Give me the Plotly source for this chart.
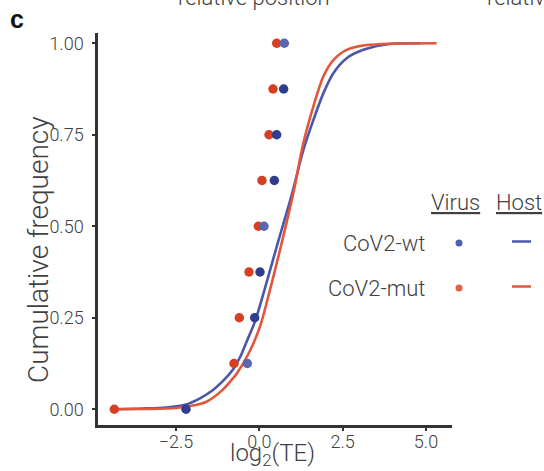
import plotly.graph_objects as go

# ---- data -------------------------------------------------------------
# cumulative frequency levels for the viral genes
virus_cumfreq = [0.0, 0.125, 0.25, 0.375, 0.5, 0.625, 0.75, 0.875, 1.0]
# log2(TE) of viral genes
virus_wt_te = [-2.20, -0.36, -0.14, 0.02, 0.14, 0.45, 0.52, 0.73, 0.75]
virus_mut_te = [-4.35, -0.76, -0.60, -0.31, -0.03, 0.08, 0.29, 0.41, 0.52]

# empirical cumulative distribution of host genes
host_wt_te = [-4.35, -3.5, -2.8, -2.2, -1.78, -1.4, -1.08, -0.78, -0.58, -0.38,
              -0.13, 0.12, 0.52, 0.97, 1.32, 1.62, 1.92, 2.22, 2.62, 3.12, 3.92, 4.82]
host_wt_cdf = [0.0, 0.002, 0.005, 0.013, 0.03, 0.052, 0.078, 0.11, 0.142, 0.185,
               0.24, 0.315, 0.444, 0.585, 0.708, 0.79, 0.863, 0.918, 0.959, 0.982, 0.998, 1.0]
host_mut_te = [-4.35, -3.5, -2.8, -2.37, -2.0, -1.6, -1.38, -1.08, -0.88, -0.68,
               -0.28, 0.02, 0.32, 0.62, 1.02, 1.32, 1.62, 1.92, 2.22, 2.62, 3.22, 4.0, 5.32]
host_mut_cdf = [0.0, 0.001, 0.002, 0.005, 0.01, 0.02, 0.032, 0.055, 0.075, 0.097,
                0.16, 0.226, 0.326, 0.435, 0.59, 0.727, 0.827, 0.909, 0.954, 0.982, 0.995, 0.999, 1.0]

x_ticks = [-2.5, 0.0, 2.5, 5.0]
y_ticks = [0.0, 0.25, 0.5, 0.75, 1.0]

# ---- styling ------------------------------------------------------------
BLUE_LINE = "#4a57aa"
RED_LINE = "#e0573b"
BLUE_DOT_DARK = "#2f3d8f"
BLUE_DOT_LIGHT = "#5867b0"
RED_DOT = "#d63f22"
wt_dot_colors = [BLUE_DOT_DARK, BLUE_DOT_LIGHT, BLUE_DOT_DARK, BLUE_DOT_DARK,
                 BLUE_DOT_LIGHT, BLUE_DOT_DARK, BLUE_DOT_DARK, BLUE_DOT_DARK, BLUE_DOT_LIGHT]
TEXT = "#404040"
AXIS = "#333333"
FONT = "Roboto"

W, H = 544, 471
L, R, T, B = 98, 92, 33, 46
PW, PH = W - L - R, H - T - B


def px(xp):
    return (xp - L) / PW


def py(yp):
    return (H - B - yp) / PH


def label(text, xp, yp, size, xanchor="center", yanchor="middle", **kw):
    return dict(text=text, x=px(xp), y=py(yp), xref="paper", yref="paper",
                xanchor=xanchor, yanchor=yanchor, showarrow=False,
                font=kw.pop("font", dict(family=FONT, size=size, color=TEXT, weight=300)), **kw)


fig = go.Figure()

fig.add_trace(go.Scatter(x=host_wt_te, y=host_wt_cdf, mode="lines",
                         line=dict(color=BLUE_LINE, width=2.6, shape="spline", smoothing=0.8),
                         showlegend=False, hoverinfo="skip"))
fig.add_trace(go.Scatter(x=host_mut_te, y=host_mut_cdf, mode="lines",
                         line=dict(color=RED_LINE, width=2.6, shape="spline", smoothing=0.8),
                         showlegend=False, hoverinfo="skip"))
fig.add_trace(go.Scatter(x=virus_mut_te, y=virus_cumfreq, mode="markers",
                         marker=dict(color=RED_DOT, size=9.5, line=dict(width=0)),
                         showlegend=False, cliponaxis=False))
fig.add_trace(go.Scatter(x=virus_wt_te, y=virus_cumfreq, mode="markers",
                         marker=dict(color=wt_dot_colors, size=9.5, line=dict(width=0)),
                         showlegend=False, cliponaxis=False))

tick_font = dict(family=FONT, size=18, color=TEXT, weight=300)
fig.update_xaxes(range=[-4.84, 5.78], tickvals=x_ticks, tickformat=".1f",
                 showgrid=False, zeroline=False, showline=True, linecolor=AXIS, linewidth=2.5,
                 ticks="outside", ticklen=3, tickwidth=1.5, tickcolor=AXIS,
                 ticklabelstandoff=-4, tickfont=tick_font)
fig.update_yaxes(range=[-0.043, 1.028], tickvals=y_ticks, tickformat=".2f",
                 showgrid=False, zeroline=False, showline=True, linecolor=AXIS, linewidth=2.5,
                 ticks="outside", ticklen=3, tickwidth=1.5, tickcolor=AXIS,
                 ticklabelstandoff=5, tickfont=tick_font)

ann = [
    # axis titles
    label("log<sub>2</sub>(TE)", 272, 455, 24),
    label("Cumulative frequency", 38, 250, 28, textangle=-90),
    # panel letter
    label("<b>c</b>", 17, 19, 24, font=dict(family="Liberation Sans", size=25, color="#111111")),
    # neighbouring panel titles above
    label("relative position", 254, 12, 22, yanchor="bottom"),
    label("relative", 485, 12, 22, xanchor="left", yanchor="bottom"),
    # legend
    label("<u>Virus</u>", 456, 202, 22),
    label("<u>Host</u>", 519, 202, 22),
    label("CoV2-wt", 427, 243, 22, xanchor="right"),
    label("CoV2-mut", 427, 288, 22, xanchor="right"),
]
fig.update_layout(annotations=ann)

shapes = []
for yy, dot_c, line_c in [(243, "#4f5fae", BLUE_LINE), (288, "#e0604a", RED_LINE)]:
    shapes.append(dict(type="circle", xref="paper", yref="paper",
                       xsizemode="pixel", ysizemode="pixel",
                       xanchor=px(459), yanchor=py(yy), x0=-3.5, x1=3.5, y0=-3.5, y1=3.5,
                       fillcolor=dot_c, line=dict(width=0)))
    shapes.append(dict(type="line", xref="paper", yref="paper",
                       x0=px(512), x1=px(531), y0=py(yy - 1.5), y1=py(yy - 1.5),
                       line=dict(color=line_c, width=2.5)))
fig.update_layout(shapes=shapes)

fig.update_layout(width=W, height=H, margin=dict(l=L, r=R, t=T, b=B),
                  plot_bgcolor="white", paper_bgcolor="white",
                  font=dict(family=FONT, color=TEXT))

fig.write_html("out.html")
